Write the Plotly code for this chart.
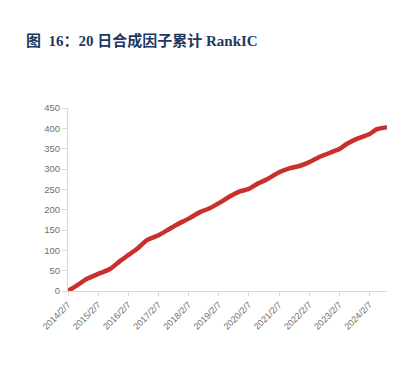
import plotly.graph_objects as go

dates = ["2014-02-07", "2014-06-05", "2014-09-25", "2015-02-07", "2015-07-01",
         "2015-11-01", "2016-02-07", "2016-05-20", "2016-09-20", "2017-02-07",
         "2017-05-20", "2017-09-15", "2018-02-07", "2018-06-25", "2018-10-25",
         "2019-02-07", "2019-06-25", "2019-10-20", "2020-02-07", "2020-05-15",
         "2020-09-15", "2021-02-07", "2021-06-20", "2021-10-20", "2022-02-07",
         "2022-06-15", "2022-10-15", "2023-02-07", "2023-05-10", "2023-09-05",
         "2024-02-07", "2024-05-05", "2024-09-05"]
values = [0, 15, 30, 42, 54, 74, 88, 103, 125, 137,
          149, 163, 178, 194, 204, 216, 233, 245, 251, 263,
          275, 292, 302, 308, 317, 330, 340, 349, 362, 374,
          386, 398, 403]

tick_dates = ["2014-02-07", "2015-02-07", "2016-02-07", "2017-02-07", "2018-02-07",
              "2019-02-07", "2020-02-07", "2021-02-07", "2022-02-07", "2023-02-07",
              "2024-02-07"]
tick_labels = ["2014/2/7", "2015/2/7", "2016/2/7", "2017/2/7", "2018/2/7",
               "2019/2/7", "2020/2/7", "2021/2/7", "2022/2/7", "2023/2/7",
               "2024/2/7"]

fig = go.Figure()
fig.add_trace(go.Scatter(x=dates, y=values, mode="lines",
                         line=dict(color="#C8302B", width=4.5, shape="spline", smoothing=0.6),
                         showlegend=False, hoverinfo="skip"))

fig.update_layout(
    width=407, height=369,
    margin=dict(l=68, r=20, t=108, b=78),
    paper_bgcolor="white", plot_bgcolor="white",
    title=dict(text="<b>图  16：20 日合成因子累计 RankIC</b>",
               x=26/407, xanchor="left", y=1 - 41/369, yanchor="middle",
               font=dict(family="Liberation Serif, Noto Sans CJK SC", size=15, color="#1F3763")),
    font=dict(family="Liberation Sans, Arial", size=9, color="#6F6F6F"),
)
fig.update_xaxes(
    type="date", range=["2014-02-07", "2024-09-05"],
    tickvals=tick_dates, ticktext=tick_labels, tickangle=-45,
    showgrid=False, showline=True, linecolor="#D9D9D9", linewidth=1,
    ticks="outside", ticklen=4, tickcolor="#D9D9D9",
    tickfont=dict(size=9, color="#6F6F6F"), zeroline=False,
)
fig.update_yaxes(
    range=[0, 450], dtick=50, tick0=0,
    showgrid=False, showline=True, linecolor="#D9D9D9", linewidth=1,
    ticks="outside", ticklen=5, tickcolor="#D9D9D9",
    tickfont=dict(size=9.5, color="#6F6F6F"), zeroline=False,
)

fig.write_html("out.html")
